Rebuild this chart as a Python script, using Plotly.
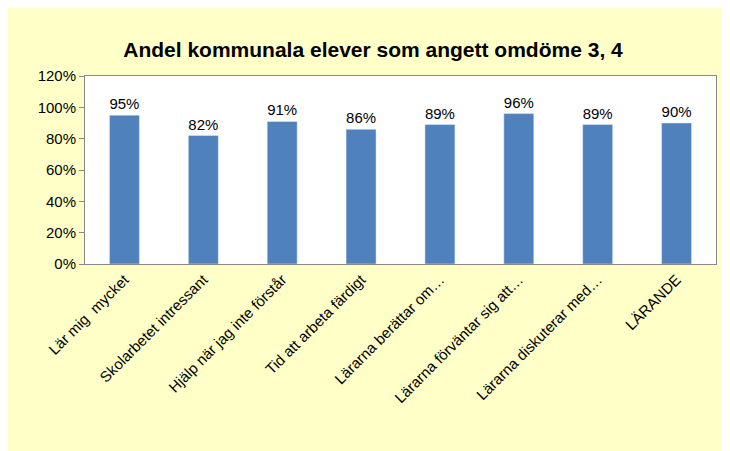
import plotly.graph_objects as go

categories = ["Lär mig  mycket", "Skolarbetet intressant", "Hjälp när jag inte förstår",
              "Tid att arbeta färdigt", "Lärarna berättar om…", "Lärarna förväntar sig att…",
              "Lärarna diskuterar med…", "LÄRANDE"]
values = [0.95, 0.82, 0.91, 0.86, 0.89, 0.96, 0.89, 0.90]
labels = ["95%", "82%", "91%", "86%", "89%", "96%", "89%", "90%"]

fig = go.Figure(go.Bar(x=categories, y=values, text=labels, textposition="outside",
                       marker_color="#4F81BD", width=0.38,
                       textfont=dict(size=15, color="black", family="Liberation Sans"),
                       cliponaxis=False))
fig.update_layout(
    width=730, height=451,
    paper_bgcolor="#FFFFC8", plot_bgcolor="white",
    margin=dict(l=77, r=22, t=68, b=195),
    title=dict(text="<b>Andel kommunala elever som angett omdöme 3, 4</b>", x=0.5, y=0.925,
               xanchor="center", font=dict(size=21, family="Liberation Sans", color="black")),
    font=dict(family="Liberation Sans", size=15, color="black"),
    showlegend=False,
)
fig.update_yaxes(range=[0, 1.2], tickvals=[0, 0.2, 0.4, 0.6, 0.8, 1.0, 1.2],
                 tickformat=".0%", showgrid=False, showline=True, linecolor="#888",
                 mirror=True, ticks="outside", ticklen=5, tickcolor="#888", zeroline=False)
fig.update_xaxes(tickangle=-45, showline=True, linecolor="#888", mirror=True,
                 ticks="outside", ticklen=0, tickfont=dict(size=15))
fig.write_html("out.html")
